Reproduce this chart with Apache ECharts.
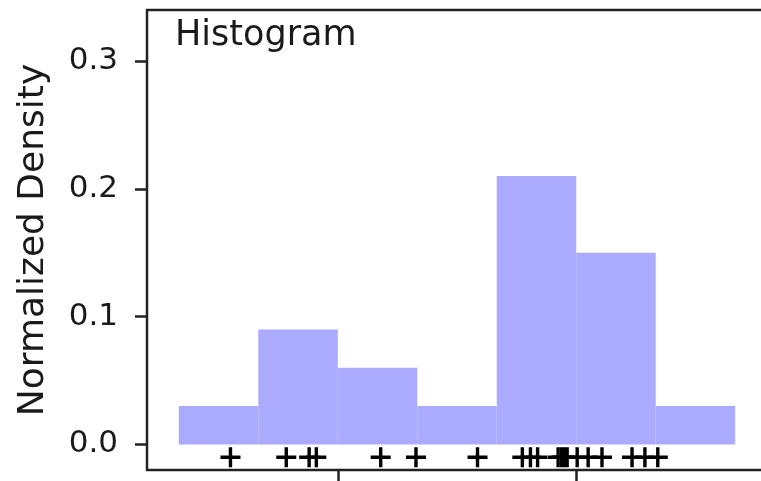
<!DOCTYPE html>
<html>
<head>
<meta charset="utf-8">
<script src="https://cdn.jsdelivr.net/npm/echarts@6/dist/echarts.min.js"></script>
<style>
  html, body { margin: 0; padding: 0; background: #fff; }
  #chart { width: 761px; height: 481px; }
</style>
</head>
<body>
<div id="chart"></div>
<script>
// bin edges (linspace -5..10, 10 points) and normalized density per bin
var binEdges = [-5, -3.333, -1.667, 0, 1.667, 3.333, 5, 6.667, 8.333, 10];
var densities = [0, 0.03, 0.09, 0.06, 0.03, 0.21, 0.15, 0.03, 0];
// sample positions shown as "+" under the histogram
var samples = [-2.25, -1.08, -0.60, -0.45, 0.90, 1.64, 2.93, 3.87, 4.04, 4.19,
               4.62, 4.69, 4.75, 4.81, 5.02, 5.25, 5.54, 6.17, 6.44, 6.71];
var sampleY = -0.01;
var yTicks = [0, 0.1, 0.2, 0.3];
var xTicks = [0, 5];

var myChart = echarts.init(document.getElementById('chart'));

var barData = [];
for (var i = 0; i < densities.length; i++) {
    barData.push([binEdges[i], binEdges[i + 1], densities[i]]);
}
var pointData = samples.map(function (s) { return [s, sampleY]; });

var font = 'DejaVu Sans';
var plus = 'path://M0,4.15H10V5.85H0Z M4.15,0H5.85V10H4.15Z';

option = {
    animation: false,
    title: {
        text: 'Histogram',
        left: 170,
        top: 13,
        textStyle: { fontFamily: font, fontSize: 35, fontWeight: 'normal', color: '#1a1a1a' }
    },
    grid: {
        left: 147, right: -6, top: 10, bottom: 11,
        outerBoundsMode: 'none',
        containLabel: false,
        show: true, borderColor: '#222', borderWidth: 2.5
    },
    xAxis: {
        type: 'value',
        min: -4,
        max: 9,
        splitLine: { show: false },
        axisLine: { show: false, onZero: false },
        axisLabel: { show: false },
        axisTick: { show: true, customValues: xTicks, length: 11, lineStyle: { color: '#222', width: 2.5 } }
    },
    yAxis: {
        type: 'value',
        min: -0.02,
        max: 0.34,
        name: 'Normalized Density',
        nameLocation: 'middle',
        nameGap: 95,
        nameTextStyle: { fontFamily: font, fontSize: 36, color: '#1a1a1a' },
        splitLine: { show: false },
        axisLine: { show: false, onZero: false },
        axisTick: { show: true, customValues: yTicks, length: 12, lineStyle: { color: '#222', width: 2.5 } },
        axisLabel: {
            customValues: yTicks,
            margin: 29,
            fontFamily: font,
            fontSize: 31,
            color: '#1a1a1a',
            formatter: function (v) { return v.toFixed(1); }
        }
    },
    series: [
        {
            type: 'custom',
            data: barData,
            renderItem: function (params, api) {
                var p0 = api.coord([api.value(0), api.value(2)]);
                var p1 = api.coord([api.value(1), 0]);
                return {
                    type: 'rect',
                    shape: { x: p0[0], y: p0[1], width: p1[0] - p0[0], height: p1[1] - p0[1] },
                    style: { fill: '#aaaaff' }
                };
            }
        },
        {
            type: 'scatter',
            data: pointData,
            symbol: plus,
            symbolSize: 20,
            itemStyle: { color: '#000', opacity: 1 },
            z: 5
        }
    ]
};
myChart.setOption(option);
</script>
</body>
</html>
